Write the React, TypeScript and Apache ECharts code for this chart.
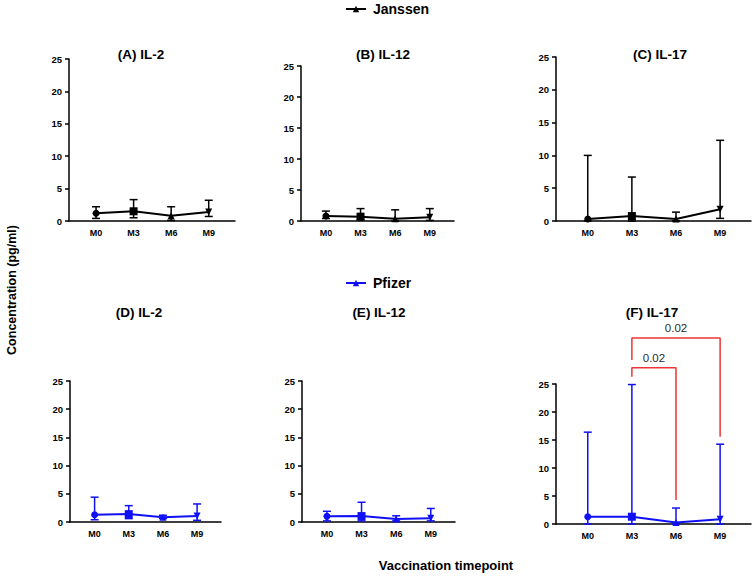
import React, { useEffect, useRef } from "react";
import * as echarts from "echarts";

// ---------- DATA ----------
const CATEGORIES = ["M0", "M3", "M6", "M9"];
const Y_TICKS = [0, 5, 10, 15, 20, 25];

// Janssen (median, min, max)
const JANSSEN_IL2_MEDIAN = [1.2, 1.5, 0.8, 1.4];
const JANSSEN_IL2_LOW = [0.4, 0.5, 0.1, 0.7];
const JANSSEN_IL2_HIGH = [2.2, 3.3, 2.2, 3.2];

const JANSSEN_IL12_MEDIAN = [0.8, 0.7, 0.35, 0.6];
const JANSSEN_IL12_LOW = [0.4, 0.2, 0.0, 0.1];
const JANSSEN_IL12_HIGH = [1.6, 2.0, 1.8, 2.0];

const JANSSEN_IL17_MEDIAN = [0.3, 0.75, 0.3, 1.8];
const JANSSEN_IL17_LOW = [0.0, 0.0, 0.0, 0.4];
const JANSSEN_IL17_HIGH = [10.0, 6.7, 1.35, 12.3];

// Pfizer (median, min, max)
const PFIZER_IL2_MEDIAN = [1.3, 1.4, 0.85, 1.05];
const PFIZER_IL2_LOW = [0.4, 0.6, 0.6, 0.3];
const PFIZER_IL2_HIGH = [4.4, 2.9, 1.2, 3.2];

const PFIZER_IL12_MEDIAN = [1.0, 1.05, 0.55, 0.65];
const PFIZER_IL12_LOW = [0.2, 0.2, 0.2, 0.2];
const PFIZER_IL12_HIGH = [1.9, 3.5, 1.1, 2.4];

const PFIZER_IL17_MEDIAN = [1.3, 1.3, 0.25, 0.85];
const PFIZER_IL17_LOW = [0.0, 0.0, 0.0, 0.0];
const PFIZER_IL17_HIGH = [16.4, 24.9, 2.85, 14.25];

// significance brackets in panel F (from, to, bar height, left end, right end, p)
const BRACKET_FROM = [1, 1];
const BRACKET_TO = [2, 3];
const BRACKET_HEIGHT = [27.9, 33.2];
const BRACKET_LEFT_END = [26.3, 29.3];
const BRACKET_RIGHT_END = [4.3, 15.6];
const BRACKET_P = ["0.02", "0.02"];

// ---------- STYLE / LAYOUT ----------
const JANSSEN_COLOR = "#000000";
const PFIZER_COLOR = "#1010f5";
const BRACKET_COLOR = "#ee3535";
const FONT = "'Liberation Sans', Arial, Helvetica, sans-serif";
const SYMBOLS = ["circle", "rect", "triangle", "triangle"];
const SYMBOL_ROTATE = [0, 0, 0, 180];
const SYMBOL_SIZE = [7, 8, 7, 7];

type Panel = {
  title: string;
  group: string;
  color: string;
  median: number[];
  low: number[];
  high: number[];
  left: number;
  top: number;
  width: number;
  height: number;
  titleX: number;
  titleY: number;
};

const PANELS: Panel[] = [
  { title: "(A) IL-2", group: "Janssen", color: JANSSEN_COLOR, median: JANSSEN_IL2_MEDIAN, low: JANSSEN_IL2_LOW, high: JANSSEN_IL2_HIGH,
    left: 69, top: 59, width: 166, height: 162, titleX: 141, titleY: 54 },
  { title: "(B) IL-12", group: "Janssen", color: JANSSEN_COLOR, median: JANSSEN_IL12_MEDIAN, low: JANSSEN_IL12_LOW, high: JANSSEN_IL12_HIGH,
    left: 301, top: 66, width: 153, height: 155, titleX: 383, titleY: 54 },
  { title: "(C) IL-17", group: "Janssen", color: JANSSEN_COLOR, median: JANSSEN_IL17_MEDIAN, low: JANSSEN_IL17_LOW, high: JANSSEN_IL17_HIGH,
    left: 556, top: 57, width: 195, height: 164, titleX: 660, titleY: 54 },
  { title: "(D) IL-2", group: "Pfizer", color: PFIZER_COLOR, median: PFIZER_IL2_MEDIAN, low: PFIZER_IL2_LOW, high: PFIZER_IL2_HIGH,
    left: 70, top: 381, width: 151, height: 141, titleX: 139, titleY: 312 },
  { title: "(E) IL-12", group: "Pfizer", color: PFIZER_COLOR, median: PFIZER_IL12_MEDIAN, low: PFIZER_IL12_LOW, high: PFIZER_IL12_HIGH,
    left: 302, top: 381, width: 153, height: 141, titleX: 379, titleY: 312 },
  { title: "(F) IL-17", group: "Pfizer", color: PFIZER_COLOR, median: PFIZER_IL17_MEDIAN, low: PFIZER_IL17_LOW, high: PFIZER_IL17_HIGH,
    left: 556, top: 384, width: 195, height: 140, titleX: 652, titleY: 312 },
];

const X_MIN = -0.72;
const X_MAX = 3.7;

function buildOption() {
  const grid: any[] = [];
  const xAxis: any[] = [];
  const yAxis: any[] = [];
  const series: any[] = [];
  const graphic: any[] = [];

  PANELS.forEach((p, i) => {
    grid.push({ left: p.left, top: p.top, width: p.width, height: p.height, containLabel: false, outerBoundsMode: "none" });
    xAxis.push({
      type: "value",
      gridIndex: i,
      min: X_MIN,
      max: X_MAX,
      axisLine: { show: true, onZero: false, lineStyle: { color: "#000", width: 1.5 } },
      axisTick: { show: false },
      splitLine: { show: false },
      axisLabel: {
        show: true,
        customValues: CATEGORIES.map((_, k) => k),
        formatter: (v: number) => CATEGORIES[Math.round(v)] ?? "",
        color: "#000",
        fontFamily: FONT,
        fontWeight: "bold",
        fontSize: 9,
        margin: 7,
      },
    });
    yAxis.push({
      type: "value",
      gridIndex: i,
      min: Y_TICKS[0],
      max: Y_TICKS[Y_TICKS.length - 1],
      interval: Y_TICKS[1] - Y_TICKS[0],
      axisLine: { show: true, onZero: false, lineStyle: { color: "#000", width: 1.5 } },
      axisTick: { show: true, length: 4, lineStyle: { color: "#000", width: 1.5 } },
      splitLine: { show: false },
      axisLabel: { color: "#000", fontFamily: FONT, fontWeight: "bold", fontSize: 9.5, margin: 7 },
    });

    const color = p.color;
    series.push({
      type: "custom",
      name: p.group + " range",
      xAxisIndex: i,
      yAxisIndex: i,
      clip: false,
      z: 3,
      data: CATEGORIES.map((_, k) => [k, p.low[k], p.high[k]]),
      encode: { x: 0, y: [1, 2] },
      renderItem: (params: any, api: any) => {
        const x = api.value(0);
        const lo = api.coord([x, api.value(1)]);
        const hi = api.coord([x, api.value(2)]);
        const hw = 4;
        const st = { stroke: color, lineWidth: 1.5 };
        return {
          type: "group",
          children: [
            { type: "line", shape: { x1: lo[0], y1: lo[1], x2: hi[0], y2: hi[1] }, style: st },
            { type: "line", shape: { x1: hi[0] - hw, y1: hi[1], x2: hi[0] + hw, y2: hi[1] }, style: st },
            { type: "line", shape: { x1: lo[0] - hw, y1: lo[1], x2: lo[0] + hw, y2: lo[1] }, style: st },
          ],
        };
      },
    });
    series.push({
      type: "line",
      name: p.group,
      xAxisIndex: i,
      yAxisIndex: i,
      z: 4,
      symbol: "triangle",
      symbolSize: 7,
      color,
      lineStyle: { color, width: 2 },
      itemStyle: { color, borderWidth: 0 },
      data: CATEGORIES.map((_, k) => ({
        value: [k, p.median[k]],
        symbol: SYMBOLS[k],
        symbolRotate: SYMBOL_ROTATE[k],
        symbolSize: SYMBOL_SIZE[k],
      })),
    });

    graphic.push({
      type: "text",
      x: p.titleX,
      y: p.titleY,
      style: {
        text: p.title,
        font: `bold 13.5px ${FONT}`,
        fill: "#000",
        textAlign: "center",
        textVerticalAlign: "middle",
      },
    });
  });

  // significance brackets on panel F
  const fIdx = 5;
  BRACKET_FROM.forEach((from, b) => {
    const to = BRACKET_TO[b];
    const h = BRACKET_HEIGHT[b];
    series.push({
      type: "line",
      name: "bracket" + b,
      xAxisIndex: fIdx,
      yAxisIndex: fIdx,
      clip: false,
      symbol: "none",
      z: 5,
      silent: true,
      lineStyle: { color: BRACKET_COLOR, width: 1.5 },
      data: [
        [from, BRACKET_LEFT_END[b]],
        [from, h],
        [to, h],
        [to, BRACKET_RIGHT_END[b]],
      ],
    });
    series.push({
      type: "scatter",
      name: "p" + b,
      xAxisIndex: fIdx,
      yAxisIndex: fIdx,
      clip: false,
      symbolSize: 0.1,
      silent: true,
      itemStyle: { color: "#333333", opacity: 0 },
      label: {
        show: true,
        position: "top",
        distance: 4,
        formatter: () => BRACKET_P[b],
        color: "#2a2a2a",
        opacity: 1,
        fontFamily: FONT,
        fontSize: 11.5,
      },
      data: [[(from + to) / 2, h]],
    });
  });

  graphic.push({
    type: "text",
    x: 12,
    y: 290,
    rotation: Math.PI / 2,
    style: {
      text: "Concentration (pg/ml)",
      font: `bold 12.5px ${FONT}`,
      fill: "#000",
      textAlign: "center",
      textVerticalAlign: "middle",
    },
  });
  graphic.push({
    type: "text",
    x: 446,
    y: 565,
    style: {
      text: "Vaccination timepoint",
      font: `bold 13px ${FONT}`,
      fill: "#000",
      textAlign: "center",
      textVerticalAlign: "middle",
    },
  });

  const legendCommon = {
    left: 345,
    padding: 0,
    itemWidth: 20,
    itemHeight: 8,
    itemGap: 10,
    selectedMode: false,
    textStyle: { fontFamily: FONT, fontWeight: "bold", fontSize: 14, color: "#000", padding: [0, 0, 0, 2] },
  };

  return {
    animation: false,
    backgroundColor: "#ffffff",
    legend: [
      { ...legendCommon, top: 2, data: ["Janssen"] },
      { ...legendCommon, top: 276, data: ["Pfizer"] },
    ],
    grid,
    xAxis,
    yAxis,
    series,
    graphic,
  };
}

export default function App() {
  const ref = useRef<HTMLDivElement>(null);
  useEffect(() => {
    if (!ref.current) return;
    const chart = echarts.init(ref.current, undefined, { renderer: "svg" });
    chart.setOption(buildOption() as any);
    return () => chart.dispose();
  }, []);
  return (
    <div
      ref={ref}
      style={{ position: "absolute", left: 0, top: 0, width: 756, height: 576, background: "#fff" }}
    />
  );
}
